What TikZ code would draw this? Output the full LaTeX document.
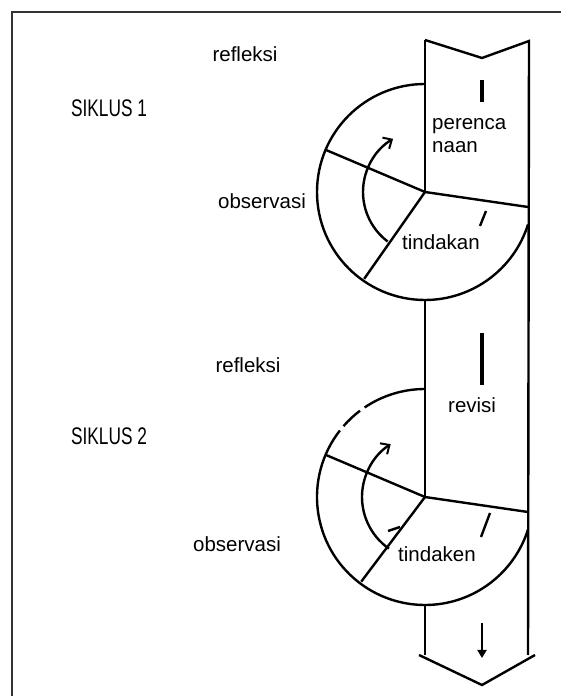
\documentclass[tikz,border=0pt]{standalone}
\usepackage{fontspec}
\setmainfont{Liberation Sans}
\usetikzlibrary{arrows.meta}
\newcommand{\narrow}[1]{\scalebox{0.72}[1]{#1}}

\begin{document}
\begin{tikzpicture}[x=1pt,y=1pt,
 lbl/.style={font=\fontsize{20.5}{23}\selectfont,inner sep=0pt},
 cyc/.style={font=\fontsize{24}{26}\selectfont,inner sep=0pt},
 rim/.style={line width=2.4pt},
 edge/.style={line width=1.1pt},
 frame/.style={line width=1.8pt,draw=black!80},
 turn/.style={rim,-{Straight Barb[length=7pt,width=13pt,line width=2pt]}}]
 \useasboundingbox (0,0) rectangle (561,696);
 \draw[frame] (12,0) -- (12,684) -- (561,684);
 \coordinate (c1) at (425,504);
 \coordinate (c2) at (425,199);
 % the strip
 \draw[rim] (425,656) -- (482,638) -- (529,655) -- (528,41);
 \draw[rim] (419,41) -- (482,11) -- (535,41);
 \draw[edge] (425,656) -- (c1);
 \draw[edge] (425,396) -- (c2);
 \draw[edge] (425,91) -- (425,41);
 \draw[line width=4pt] (482,616) -- (482,594);
 \draw[line width=3.5pt] (482,363) -- (482,311);
 \draw[line width=2.5pt,-{Triangle[length=8pt,width=9pt]}] (482,73) -- (482,38);
 % siklus 1
 \draw[rim] (c1) ++(90:108) arc[start angle=90,end angle=342.5,radius=108];
 \draw[rim] (c1) -- ++(157:108);
 \draw[rim] (c1) -- (528,489);
 \draw[rim] (c1) -- ++(235:106);
 \draw[turn] (c1) ++(233:62) arc[start angle=233,end angle=121,radius=62];
 \draw[rim] (486,485) -- (480,470);
 % siklus 2
 \foreach \a/\b in {90/124,127/139,142/342.5}
  \draw[rim] (c2) ++(\a:108) arc[start angle=\a,end angle=\b,radius=108];
 \draw[rim] (c2) -- ++(157:108);
 \draw[rim] (c2) -- (528,184);
 \draw[rim] (c2) -- ++(233:106);
 \draw[turn] (c2) ++(235:63) arc[start angle=235,end angle=123,radius=63];
 \draw[rim] (490,183) -- (481,159);
 \draw[rim] (388,165) -- (400,169);
 % labels
 \node[lbl,anchor=base] (refl1) at (245,634) {refleksi};
 \node[cyc,anchor=base] (sik1) at (109,579) {\narrow{SIKLUS 1}};
 \node[lbl,anchor=base west] (plan) at (432,566) {perenca};
 \node[lbl,anchor=base west] (plan2) at (432,543) {naan};
 \node[lbl,anchor=base] (obs1) at (262,487) {observasi};
 \node[lbl,anchor=base west,fill=white,inner xsep=1pt] (act1) at (401,446) {tindakan};
 \node[lbl,anchor=base] (refl2) at (248,323) {refleksi};
 \node[lbl,anchor=base west] (rev) at (448,283) {revisi};
 \node[cyc,anchor=base] (sik2) at (109,251) {\narrow{SIKLUS 2}};
 \node[lbl,anchor=base] (obs2) at (237,144) {observasi};
 \node[lbl,anchor=base west] (act2) at (398,134) {tindaken};
\end{tikzpicture}
\end{document}
